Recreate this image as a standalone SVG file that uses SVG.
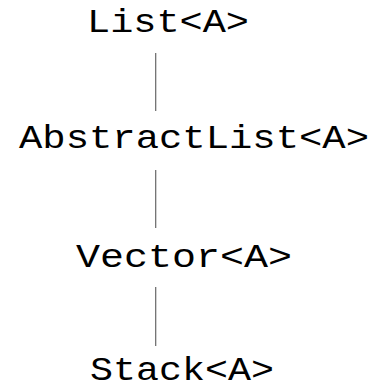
<svg xmlns="http://www.w3.org/2000/svg" width="373" height="390" viewBox="0 0 373 390">
<style>
.t{font-family:"Liberation Mono","Courier New",monospace;font-size:33px;fill:#000;text-anchor:middle}
.e{stroke:#666;stroke-width:1.2;fill:none}
</style>
<rect width="373" height="390" fill="#fff"/>
<g id="edges">
<line class="e" x1="155.7" y1="53" x2="155.7" y2="111"/>
<line class="e" x1="155.7" y1="170" x2="155.7" y2="228"/>
<line class="e" x1="155.7" y1="287" x2="155.7" y2="346"/>
</g>
<g id="list"><text class="t" x="168" y="32" textLength="162" lengthAdjust="spacingAndGlyphs">List&lt;A&gt;</text></g>
<g id="abstractlist"><text class="t" x="194" y="148" textLength="350" lengthAdjust="spacingAndGlyphs">AbstractList&lt;A&gt;</text></g>
<g id="vector"><text class="t" x="184" y="267" textLength="216" lengthAdjust="spacingAndGlyphs">Vector&lt;A&gt;</text></g>
<g id="stack"><text class="t" x="182" y="380" textLength="184" lengthAdjust="spacingAndGlyphs">Stack&lt;A&gt;</text></g>
</svg>
